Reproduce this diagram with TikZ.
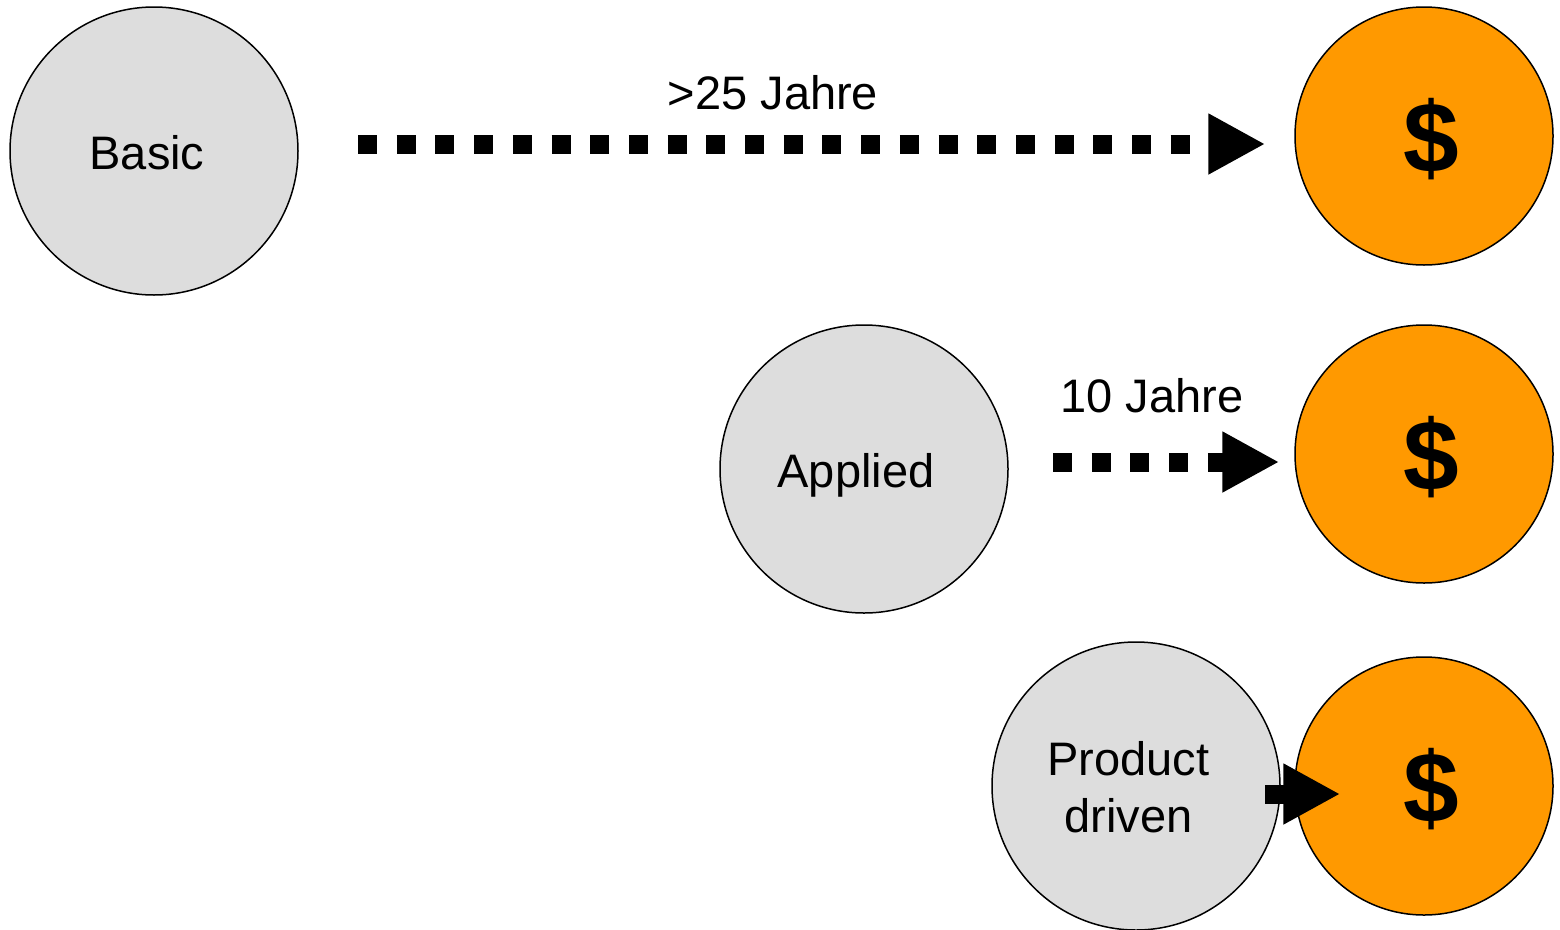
\documentclass[tikz,border=0pt]{standalone}
\usepackage{fontspec}
\setmainfont{Liberation Sans}
\usetikzlibrary{arrows.meta}
\begin{document}
\begin{tikzpicture}[x=1pt,y=-1pt,
  stage/.style={circle,draw=black,line width=1.5pt,fill=graybg,minimum size=288pt,inner sep=0pt},
  money/.style={circle,draw=black,line width=1.5pt,fill=moneyorange,minimum size=258pt,inner sep=0pt},
  lbl/.style={font=\fontsize{47}{57}\selectfont,inner sep=0pt,align=center},
  dollar/.style={font=\fontsize{100}{100}\selectfont\bfseries,inner sep=0pt},
  conn/.style={line width=19pt,dash pattern=on 19pt off 19.7pt,-{Triangle[length=57pt,width=57pt]}},
  solidconn/.style={line width=19pt,-{Triangle[length=57pt,width=57pt]}}
]
\definecolor{graybg}{HTML}{DDDDDD}
\definecolor{moneyorange}{HTML}{FF9900}
\useasboundingbox (0,0) rectangle (1560,929);
\node[stage,label={[lbl,xshift=-7pt,yshift=-1.5pt]center:Basic}] (basic) at (154,151) {};
\node[stage,label={[lbl,xshift=-8pt,yshift=-6pt]center:Applied}] (applied) at (864,469) {};
\node[stage,label={[lbl,xshift=-7.5pt,yshift=-1pt]center:Product\\driven}] (product) at (1136,786) {};
\node[money,label={[dollar,xshift=7pt,yshift=-3.5pt]center:\$}] (m1) at (1424,136) {};
\node[money,label={[dollar,xshift=7pt,yshift=-3.5pt]center:\$}] (m2) at (1424,454) {};
\node[money,label={[dollar,xshift=7pt,yshift=-3.5pt]center:\$}] (m3) at (1424,786) {};
\coordinate (s1) at (358,144);
\coordinate (s2) at (1053,462);
\coordinate (s3) at (1265,794);
\draw[conn,shorten >=29pt] (s1) -- (s1 -| m1.west);
\draw[conn,shorten >=15pt] (s2) -- (s2 -| m2.west);
\draw[solidconn,shorten >=-46pt] (s3) -- (s3 -| m3.west);
\node[lbl] (t1) at (773,93) {>25 Jahre};
\node[lbl] (t2) at (1152,396) {10 Jahre};
\end{tikzpicture}
\end{document}
